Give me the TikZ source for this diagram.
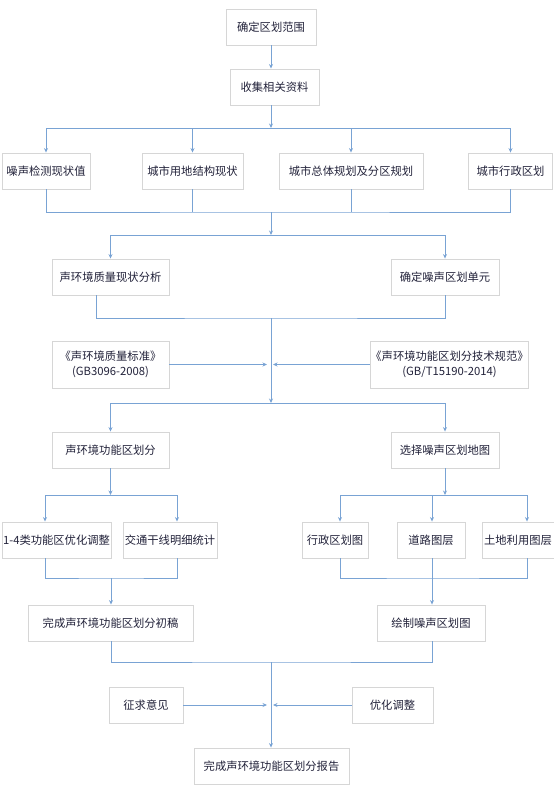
\documentclass[tikz,border=0pt]{standalone}
\usepackage{fontspec}
\setmainfont{Noto Sans CJK SC}
\usetikzlibrary{arrows.meta,calc}
\definecolor{lin}{HTML}{79A3D4}
\definecolor{frm}{HTML}{D6D6D6}
\definecolor{txt}{HTML}{22223A}

\begin{document}
\begin{tikzpicture}[x=1pt,y=-1pt,
  box/.style={draw=frm,line width=0.9pt,fill=white,text=txt,minimum height=36pt,
    inner sep=0pt,align=center,font=\fontsize{11.3}{14.5}\selectfont},
  ln/.style={draw=lin,line width=1pt},
  ar/.style={ln,-{Stealth[length=4.5pt,width=4pt]}}]
 \useasboundingbox (0,0) rectangle (554,811);
 % steps
 \node[box,minimum width=90pt]  (fw) at (271,27)    {确定区划范围};
 \node[box,minimum width=89pt]  (zl) at (274.5,87)  {收集相关资料};
 \node[box,minimum width=88pt]  (c1) at (46,171)    {噪声检测现状值};
 \node[box,minimum width=101pt] (c2) at (192.5,171) {城市用地结构现状};
 \node[box,minimum width=144pt] (c3) at (351,171)   {城市总体规划及分区规划};
 \node[box,minimum width=84pt]  (c4) at (510.5,171) {城市行政区划};
 \node[box,minimum width=117pt] (d1) at (110.5,277) {声环境质量现状分析};
 \node[box,minimum width=108pt] (d2) at (445,277)   {确定噪声区划单元};
 \node[box,minimum width=117pt,minimum height=47pt] (e1) at (110.5,364.5) {《声环境质量标准》\\(GB3096-2008)};
 \node[box,minimum width=155pt,minimum height=47pt] (e2) at (449.5,364.5) {《声环境功能区划分技术规范》\\(GB/T15190-2014)};
 \node[box,minimum width=117pt] (f1) at (110.5,450) {声环境功能区划分};
 \node[box,minimum width=108pt] (f2) at (445,450)   {选择噪声区划地图};
 \node[box,minimum width=109pt] (g1) at (56.5,540)  {1-4类功能区优化调整};
 \node[box,minimum width=94pt]  (g2) at (170,540)   {交通干线明细统计};
 \node[box,minimum width=66pt]  (g3) at (335,540)   {行政区划图};
 \node[box,minimum width=68pt]  (g4) at (431,540)   {道路图层};
 \node[box,minimum width=72pt]  (g5) at (518,540)   {土地利用图层};
 \node[box,minimum width=165pt] (h1) at (110.5,623) {完成声环境功能区划分初稿};
 \node[box,minimum width=108pt] (h2) at (431,623)   {绘制噪声区划图};
 \node[box,minimum width=74pt]  (i1) at (146,705)   {征求意见};
 \node[box,minimum width=81pt]  (i2) at (392.5,705) {优化调整};
 \node[box,minimum width=155pt] (bg) at (271.5,766) {完成声环境功能区划分报告};
 % bus points
 \coordinate (t1) at (271,128);
 \coordinate (t2) at (271,212);
 \coordinate (t3) at (271,235);
 \coordinate (t4) at (271,318);
 \coordinate (t5) at (271,403);
 \coordinate (t8) at (271,662);
 \coordinate (m1) at (267,364.5);
 \coordinate (m2) at (273,364.5);
 \coordinate (m3) at (267,705);
 \coordinate (m4) at (273,705);
 \coordinate (u1) at (45,495);
 \coordinate (u2) at (177,495);
 \coordinate (u3) at (111,578);
 \coordinate (v1) at (340,495);
 \coordinate (v2) at (432,495);
 \coordinate (v3) at (527,495);
 % connectors
 \draw[ar] (fw.south -| t1) -- (zl.north -| t1);
 \draw[ar] (zl.south -| t1) -- (t1);
 \draw[ln] (c1.north |- t1) -- (c4.north |- t1);
 \foreach \n in {c1,c2,c3,c4} \draw[ar] (\n.north |- t1) -- (\n.north);
 \draw[ln] (c1.south) |- (t2) -| (c4.south);
 \draw[ln] (c2.south) -- (c2.south |- t2);
 \draw[ln] (c3.south) -- (c3.south |- t2);
 \draw[ar] (t2) -- (t3);
 \draw[ln] (d1.north |- t3) -- (d2.north |- t3);
 \foreach \n in {d1,d2} \draw[ar] (\n.north |- t3) -- (\n.north);
 \draw[ln] ($(d1.south)+(-14.5,0)$) |- (t4) -| (d2.south);
 \draw[ar] (t4) -- (t5);
 \draw[ar] (e1.east) -- (m1);
 \draw[ar] (e2.west) -- (m2);
 \draw[ln] (f1.north |- t5) -- (f2.north |- t5);
 \foreach \n in {f1,f2} \draw[ar] (\n.north |- t5) -- (\n.north);
 % left branch
 \draw[ar] (f1.south) -- (f1.south |- u1);
 \draw[ln] (u1) -- (u2);
 \draw[ar] (u1) -- (u1 |- g1.north);
 \draw[ar] (u2) -- (u2 |- g2.north);
 \draw[ln] (u1 |- g1.south) |- (u3) -| (u2 |- g2.south);
 \draw[ar] (u3) -- (u3 |- h1.north);
 % right branch
 \draw[ar] (f2.south) -- (f2.south |- v1);
 \draw[ln] (v1) -- (v3);
 \foreach \p/\n in {v1/g3,v2/g4,v3/g5} \draw[ar] (\p) -- (\p |- \n.north);
 \draw[ln] (v1 |- g3.south) |- (v2 |- u3) -| (v3 |- g5.south);
 \draw[ar] (v2 |- g4.south) -- (v2 |- h2.north);
 % merge
 \draw[ln] (u3 |- h1.south) |- (t8) -| (v2 |- h2.south);
 \draw[ar] (t8) -- (t8 |- bg.north);
 \draw[ar] (i1.east) -- (m3);
 \draw[ar] (i2.west) -- (m4);
\end{tikzpicture}
\end{document}
